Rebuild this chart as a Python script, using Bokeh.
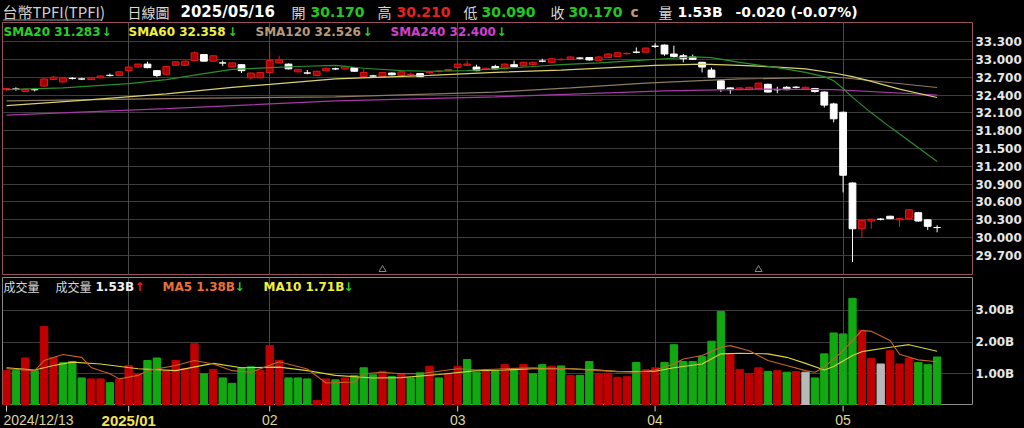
from bokeh.plotting import figure
from bokeh.layouts import column
from bokeh.models import Range1d, FixedTicker, PrintfTickFormatter, Label, Grid, ColumnDataSource
from bokeh.core.properties import value
from bokeh.embed import file_html
from bokeh.resources import INLINE

# ---------------- data ----------------
opens = [32.49, 32.50, 32.46, 32.49, 32.55, 32.66, 32.62, 32.68, 32.67, 32.66,
         32.69, 32.73, 32.73, 32.81, 32.87, 32.92, 32.81, 32.75, 32.90, 32.90,
         32.98, 33.08, 32.97, 32.94, 32.87, 32.91, 32.69, 32.69, 32.78, 32.94,
         32.92, 32.79, 32.77, 32.73, 32.81, 32.84, 32.84, 32.86, 32.71, 32.72,
         32.71, 32.77, 32.73, 32.745, 32.76, 32.775, 32.795, 32.81, 32.86, 32.90,
         32.87, 32.83, 32.88, 32.84, 32.91, 32.89, 32.91, 32.97, 32.95, 32.995,
         33.00, 33.02, 33.03, 32.98, 33.03, 33.05, 33.095, 33.12, 33.12, 33.22,
         33.24, 33.09, 33.06, 33.04, 32.95, 32.82, 32.64, 32.52, 32.49, 32.49,
         32.51, 32.58, 32.49, 32.53, 32.53, 32.50, 32.51, 32.45, 32.25, 32.11,
         30.92, 30.15, 30.28, 30.31, 30.36, 30.30, 30.32, 30.42, 30.30, 30.17]
highs = [32.52, 32.53, 32.51, 32.52, 32.68, 32.72, 32.70, 32.70, 32.69, 32.70,
         32.73, 32.76, 32.80, 32.88, 32.93, 32.96, 32.82, 32.89, 32.97, 32.98,
         33.13, 33.09, 33.07, 32.98, 32.95, 32.92, 32.78, 32.79, 33.15, 33.06,
         32.93, 32.84, 32.82, 32.81, 32.86, 32.86, 32.90, 32.87, 32.84, 32.74,
         32.79, 32.78, 32.80, 32.78, 32.77, 32.80, 32.82, 32.84, 32.93, 32.98,
         32.91, 32.86, 32.91, 32.93, 32.98, 32.96, 32.96, 33.01, 33.02, 33.02,
         33.05, 33.04, 33.04, 33.05, 33.10, 33.12, 33.12, 33.20, 33.20, 33.27,
         33.25, 33.23, 33.09, 33.08, 32.96, 32.86, 32.65, 32.53, 32.53, 32.54,
         32.61, 32.59, 32.54, 32.55, 32.55, 32.54, 32.52, 32.46, 32.27, 32.12,
         30.93, 30.30, 30.32, 30.33, 30.37, 30.33, 30.48, 30.43, 30.31, 30.21]
lows = [32.47, 32.47, 32.45, 32.46, 32.54, 32.65, 32.61, 32.66, 32.65, 32.65,
        32.68, 32.71, 32.72, 32.80, 32.86, 32.85, 32.70, 32.74, 32.89, 32.89,
        32.97, 32.96, 32.96, 32.89, 32.86, 32.77, 32.66, 32.68, 32.77, 32.93,
        32.83, 32.78, 32.75, 32.72, 32.80, 32.82, 32.83, 32.79, 32.70, 32.70,
        32.70, 32.73, 32.72, 32.73, 32.70, 32.76, 32.78, 32.80, 32.85, 32.89,
        32.80, 32.82, 32.83, 32.83, 32.87, 32.88, 32.90, 32.95, 32.94, 32.98,
        32.99, 33.00, 32.98, 32.97, 33.02, 33.04, 33.08, 33.10, 33.11, 33.19,
        33.06, 33.03, 32.95, 32.99, 32.78, 32.69, 32.45, 32.42, 32.48, 32.48,
        32.50, 32.44, 32.43, 32.48, 32.51, 32.49, 32.44, 32.19, 31.94, 30.76,
        29.59, 29.99, 30.15, 30.29, 30.31, 30.18, 30.31, 30.27, 30.13, 30.09]
closes = [32.51, 32.50, 32.50, 32.49, 32.67, 32.70, 32.69, 32.68, 32.67, 32.69,
          32.72, 32.73, 32.79, 32.87, 32.92, 32.86, 32.73, 32.88, 32.96, 32.97,
          33.11, 32.97, 33.06, 32.94, 32.94, 32.81, 32.77, 32.78, 32.98, 32.99,
          32.84, 32.83, 32.77, 32.80, 32.85, 32.84, 32.88, 32.80, 32.78, 32.72,
          32.78, 32.74, 32.79, 32.75, 32.71, 32.78, 32.80, 32.83, 32.92, 32.92,
          32.81, 32.85, 32.84, 32.92, 32.88, 32.95, 32.95, 32.97, 33.01, 33.00,
          33.04, 33.02, 32.99, 33.04, 33.09, 33.11, 33.10, 33.12, 33.19, 33.22,
          33.09, 33.05, 33.01, 33.00, 32.87, 32.70, 32.50, 32.49, 32.52, 32.53,
          32.60, 32.45, 32.49, 32.49, 32.53, 32.53, 32.46, 32.23, 32.00, 31.05,
          30.15, 30.29, 30.31, 30.31, 30.32, 30.32, 30.47, 30.28, 30.19, 30.17]

volumes = [1.10, 1.10, 1.50, 1.10, 2.49, 1.52, 1.35, 1.39, 0.87, 0.84,
           0.84, 0.72, 0.84, 1.26, 1.00, 1.42, 1.50, 1.10, 1.42, 1.16,
           1.95, 1.00, 1.14, 0.87, 0.70, 1.19, 1.22, 1.10, 1.89, 1.42,
           0.87, 0.87, 0.84, 0.16, 0.84, 0.81, 0.87, 0.95, 1.19, 0.97,
           1.08, 0.92, 1.00, 0.87, 1.03, 1.24, 0.87, 1.00, 1.24, 1.45,
           1.05, 1.14, 1.10, 1.29, 1.16, 1.29, 1.00, 1.29, 1.24, 1.25,
           0.95, 0.95, 1.39, 1.00, 1.02, 0.89, 0.91, 1.36, 1.13, 1.19,
           1.36, 1.92, 1.39, 1.39, 1.55, 2.03, 2.97, 1.63, 1.14, 1.00,
           1.19, 1.08, 1.10, 1.05, 1.07, 1.05, 0.87, 1.63, 2.29, 2.26,
           3.38, 2.37, 1.49, 1.31, 1.73, 1.31, 1.49, 1.36, 1.29, 1.53]
# r = up day, g = down day, n = unchanged
vol_dir = "".join(["rgrgrrgggr", "rgrrrggrrr", "rgrggggrrr", "gggrrgrggg", "rgrggrgrrg",
                   "grgrgrggrg", "rggrrrrgrr", "gggggggrrr", "rgrgrngggg", "grrnrrrggg"])

sma20_idx = [0, 6, 13, 17, 21, 24, 28, 31, 35, 38, 42, 45, 49, 52, 56, 59, 63, 66,
             70, 73, 75, 78, 82, 85, 87, 88, 89, 90, 92, 94, 96, 99]
sma20_val = [32.49, 32.52, 32.59, 32.66, 32.76, 32.83, 32.86, 32.88, 32.90, 32.85,
             32.81, 32.80, 32.81, 32.84, 32.88, 32.91, 32.94, 32.97, 33.01, 33.04,
             33.03, 32.95, 32.86, 32.78, 32.71, 32.64, 32.51, 32.36, 32.10, 31.86,
             31.63, 31.283]
sma60_idx = [0, 8, 17, 24, 28, 35, 45, 52, 59, 69, 74, 78, 82, 85, 88, 90, 92, 95, 99]
sma60_val = [32.22, 32.31, 32.42, 32.53, 32.58, 32.67, 32.73, 32.78, 32.82, 32.90,
             32.92, 32.90, 32.87, 32.84, 32.77, 32.71, 32.63, 32.50, 32.358]
sma120_idx = [0, 17, 35, 52, 60, 68, 78, 88, 89, 99]
sma120_val = [32.30, 32.34, 32.37, 32.45, 32.52, 32.60, 32.67, 32.70, 32.69, 32.526]
sma240_idx = [0, 17, 35, 52, 70, 80, 88, 99]
sma240_val = [32.06, 32.17, 32.30, 32.37, 32.47, 32.50, 32.49, 32.400]

ma5_idx = [0, 3, 4, 6, 8, 9, 11, 12, 14, 15, 18, 20, 22, 24, 26, 29, 31, 32, 34, 37,
           38, 40, 42, 44, 48, 50, 53, 56, 60, 63, 67, 69, 71, 72, 74, 76, 77, 79, 81,
           83, 85, 86, 87, 89, 91, 92, 94, 95, 97, 99]
ma5_val = [1.16, 1.10, 1.42, 1.61, 1.52, 1.20, 1.00, 0.84, 0.95, 1.10, 1.26, 1.42,
           1.31, 1.10, 1.05, 1.38, 1.23, 1.15, 0.71, 0.74, 1.00, 1.05, 1.00, 1.00,
           1.16, 1.12, 1.16, 1.19, 1.16, 1.10, 1.05, 1.12, 1.31, 1.47, 1.58, 1.84,
           1.89, 1.73, 1.42, 1.26, 1.10, 1.05, 1.21, 1.73, 2.37, 2.34, 2.05, 1.62,
           1.44, 1.38]
ma10_idx = [0, 3, 5, 7, 10, 14, 18, 22, 25, 29, 32, 35, 39, 42, 46, 50, 53, 56, 60,
            63, 65, 69, 71, 74, 76, 78, 81, 83, 85, 87, 88, 90, 91, 94, 96, 99]
ma10_val = [1.19, 1.12, 1.26, 1.37, 1.31, 1.16, 1.10, 1.33, 1.19, 1.21, 1.10, 0.95,
            0.87, 0.88, 0.98, 1.10, 1.12, 1.16, 1.16, 1.12, 1.07, 1.08, 1.19, 1.31,
            1.63, 1.65, 1.63, 1.52, 1.33, 1.12, 1.23, 1.58, 1.70, 1.84, 1.92, 1.71]

first_date = "2024/12/13"
tick_idx = [0, 13, 28, 48, 69, 89]
month_labels = ["2025/01", "02", "03", "04", "05"]
price_ticks = [29.7, 30.0, 30.3, 30.6, 30.9, 31.2, 31.5, 31.8, 32.1, 32.4, 32.7, 33.0, 33.3]
vol_ticks = [1, 2, 3]
marker_idx = [40, 80]

# ---------------- layout / style ----------------
BG = "#000000"
W = 1024
BL, BR = 2, 52
BAR_PX = 9.4
X0 = -4.0 / BAR_PX
X1 = X0 + (W - BL - BR) / BAR_PX
P_LO, P_HI = 29.380, 33.620
V_LO, V_HI = 0.0, 4.04
LAT = "DejaVu Sans"
CJK = "Noto Sans CJK TC"
UP_FILL, UP_LINE, DN = "#a80000", "#e01818", "#ffffff"
GREEN_T, RED_T = "#22c822", "#e82020"
GRID = "#3c3c3c"


def base_fig(height, x_range, y_range, **kw):
    f = figure(width=W, height=height, x_range=x_range, y_range=y_range,
               output_backend="svg", toolbar_location=None,
               background_fill_color=BG, border_fill_color=BG,
               min_border_left=BL, min_border_right=BR, **kw)
    return f


# ---- header (data x == page pixel x) ----
h = base_fig(21, Range1d(BL, W - BR), Range1d(0, 21), x_axis_location=None,
             y_axis_location=None, min_border_top=0, min_border_bottom=0,
             outline_line_color=None)
h.xgrid.visible = False
h.ygrid.visible = False
header = [
    (2, "台幣TPFI(TPFI)", "#d0d0d0", CJK, "normal", "15px"),
    (127, "日線圖", "#d8d8d8", CJK, "normal", "14px"),
    (180, "2025/05/16", "#ffffff", LAT, "bold", "15px"),
    (291, "開", "#d8d8d8", CJK, "normal", "14px"),
    (310, "30.170", GREEN_T, LAT, "bold", "14px"),
    (377, "高", "#d8d8d8", CJK, "normal", "14px"),
    (396, "30.210", RED_T, LAT, "bold", "14px"),
    (463, "低", "#d8d8d8", CJK, "normal", "14px"),
    (481, "30.090", GREEN_T, LAT, "bold", "14px"),
    (550, "收", "#d8d8d8", CJK, "normal", "14px"),
    (568, "30.170", GREEN_T, LAT, "bold", "14px"),
    (630, "c", "#b89a78", LAT, "bold", "14px"),
    (658, "量", "#d8d8d8", CJK, "normal", "14px"),
    (677, "1.53B", "#ffffff", LAT, "bold", "14px"),
    (735, "-0.020 (-0.07%)", "#ffffff", LAT, "bold", "14px"),
]
for x, t, c, f, st, sz in header:
    h.text(x=[x], y=[10], text=[t], text_color=c, text_font=value(f),
           text_font_style=st, text_font_size=sz, text_align="left",
           text_baseline="middle")
h.segment(x0=[2], y0=[1.5], x1=[101], y1=[1.5], line_color="#9a9a9a", line_width=1)

# ---- price panel ----
p = base_fig(255, Range1d(X0, X1), Range1d(P_LO, P_HI), x_axis_location=None,
             y_axis_location="right", min_border_top=1, min_border_bottom=2,
             outline_line_color="#9a5262")
p.xgrid.visible = False
p.ygrid.ticker = FixedTicker(ticks=price_ticks)
p.ygrid.grid_line_color = GRID
p.add_layout(Grid(dimension=0, ticker=FixedTicker(ticks=tick_idx[1:]),
                  grid_line_color="#4a4a4a"))
p.yaxis.ticker = FixedTicker(ticks=price_ticks)
p.yaxis.formatter = PrintfTickFormatter(format="%.3f")

n = len(closes)
idx = list(range(n))
is_up = [c > o for o, c in zip(opens, closes)]
src = ColumnDataSource(dict(
    x=idx, high=highs, low=lows,
    top=[max(o, c) for o, c in zip(opens, closes)],
    bottom=[min(o, c) for o, c in zip(opens, closes)],
    fill=[UP_FILL if u else DN for u in is_up],
    edge=[UP_LINE if u else DN for u in is_up],
))
p.segment(x0="x", y0="low", x1="x", y1="high", line_color="edge", line_width=1, source=src)
p.vbar(x="x", width=0.72, top="top", bottom="bottom", fill_color="fill",
       line_color="edge", line_width=1, source=src)

p.line(sma240_idx, sma240_val, line_color="#a838a8", line_width=1.2)
p.line(sma120_idx, sma120_val, line_color="#8c7a62", line_width=1.2)
p.line(sma60_idx, sma60_val, line_color="#d8d070", line_width=1.2)
p.line(sma20_idx, sma20_val, line_color="#2a8e2a", line_width=1.2)

tri_y = P_LO + 5.0 * (P_HI - P_LO) / 252.0
p.scatter(x=marker_idx, y=[tri_y] * len(marker_idx), marker="triangle", size=7,
          fill_color=None, line_color="#8a8a8a", line_width=1)

legend_p = [
    (1, "SMA20 31.283", "#28d028"), (99, "↓", "#28d028"),
    (126, "SMA60 32.358", "#f0f040"), (225, "↓", "#28d028"),
    (253, "SMA120 32.526", "#b89a78"), (360, "↓", "#28d028"),
    (388, "SMA240 32.400", "#d040d0"), (494, "↓", "#28d028"),
]
for x, t, c in legend_p:
    p.add_layout(Label(x=x, y=243, x_units="screen", y_units="screen", text=t,
                       text_color=c, text_font=LAT, text_font_size="12px",
                       text_font_style="bold", text_baseline="middle"))

# ---- volume panel ----
v = base_fig(129, p.x_range, Range1d(V_LO, V_HI), x_axis_location=None,
             y_axis_location="right", min_border_top=1, min_border_bottom=0,
             outline_line_color="#8c8c8c")
v.xgrid.visible = False
v.ygrid.ticker = FixedTicker(ticks=vol_ticks)
v.ygrid.grid_line_color = GRID
v.add_layout(Grid(dimension=0, ticker=FixedTicker(ticks=tick_idx[1:]),
                  grid_line_color="#4a4a4a"))
v.yaxis.ticker = FixedTicker(ticks=vol_ticks)
v.yaxis.formatter = PrintfTickFormatter(format="%.2fB")

vcol = {"r": "#c00000", "g": "#12a812", "n": "#b8b8b8"}
vsrc = ColumnDataSource(dict(x=idx, top=volumes, c=[vcol[d] for d in vol_dir]))
v.vbar(x="x", width=0.78, top="top", bottom=0, fill_color="c", line_color="c", source=vsrc)
v.line(ma10_idx, ma10_val, line_color="#d8d040", line_width=1.1)
v.line(ma5_idx, ma5_val, line_color="#c06428", line_width=1.1)

legend_v = [
    (1, "成交量", "#d8d8d8", CJK, "normal"),
    (53, "成交量", "#d8d8d8", CJK, "normal"),
    (93, "1.53B", "#f0f0f0", LAT, "bold"), (132, "↑", "#e82020", LAT, "bold"),
    (160, "MA5 1.38B", "#e8703a", LAT, "bold"), (232, "↓", "#28d028", LAT, "bold"),
    (261, "MA10 1.71B", "#f0f040", LAT, "bold"), (341, "↓", "#28d028", LAT, "bold"),
]
for x, t, c, f, st in legend_v:
    v.add_layout(Label(x=x, y=119, x_units="screen", y_units="screen", text=t,
                       text_color=c, text_font=f, text_font_size="12px",
                       text_font_style=st, text_baseline="middle"))

for f in (p, v):
    ax = f.yaxis
    ax.axis_line_color = None
    ax.major_tick_line_color = None
    ax.minor_tick_line_color = None
    ax.major_tick_out = 0
    ax.major_tick_in = 0
    ax.minor_tick_out = 0
    ax.minor_tick_in = 0
    ax.major_label_standoff = 3
    ax.major_label_text_color = "#e6e6e6"
    ax.major_label_text_font = LAT
    ax.major_label_text_font_size = "12px"
    ax.major_label_text_font_style = "bold"

# ---- date strip ----
s = base_fig(23, p.x_range, Range1d(0, 23), x_axis_location=None, y_axis_location=None,
             min_border_top=0, min_border_bottom=0, outline_line_color=None)
s.xgrid.visible = False
s.ygrid.visible = False
s.segment(x0=tick_idx, y0=[23] * len(tick_idx), x1=tick_idx, y1=[17] * len(tick_idx),
          line_color="#d8d8c0", line_width=1)
DATE_FONT = "Liberation Sans Narrow, Liberation Sans"
s.text(x=[tick_idx[0]], y=[8.5], text=[first_date], text_color="#ddd59a",
       text_font=value(DATE_FONT), text_font_size="14px", text_align="left",
       text_baseline="middle", x_offset=-3)
s.text(x=[tick_idx[1]], y=[8.5], text=[month_labels[0]], text_color="#f2e458",
       text_font=value(DATE_FONT), text_font_size="15px", text_font_style="bold",
       text_align="center", text_baseline="middle")
s.text(x=tick_idx[2:], y=[8.5] * len(month_labels[1:]), text=month_labels[1:],
       text_color="#ddd59a", text_font=value(DATE_FONT), text_font_size="14px",
       text_align="center", text_baseline="middle")

layout = column(h, p, v, s, spacing=0)

html = file_html(layout, INLINE, title="台幣TPFI 日線圖")
html = html.replace("</head>",
                    "<style>html,body{margin:0;padding:0;background:#000;overflow:hidden;}</style></head>", 1)
open("out.html", "w").write(html)
